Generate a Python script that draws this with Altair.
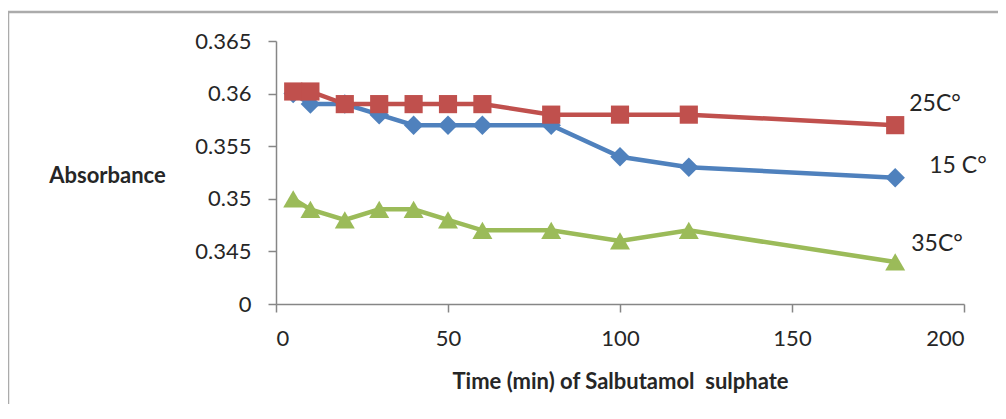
import altair as alt
import pandas as pd

times = [5, 10, 20, 30, 40, 50, 60, 80, 100, 120, 180]
abs_15 = [0.360, 0.359, 0.359, 0.358, 0.357, 0.357, 0.357, 0.357, 0.354, 0.353, 0.352]
abs_25 = [0.3602, 0.3602, 0.359, 0.359, 0.359, 0.359, 0.359, 0.358, 0.358, 0.358, 0.357]
abs_35 = [0.350, 0.349, 0.348, 0.349, 0.349, 0.348, 0.347, 0.347, 0.346, 0.347, 0.344]

series_names = ["15 C°", "25C°", "35C°"]
series_colors = ["#4F81BD", "#C0504D", "#9BBB59"]
series_shapes = ["diamond", "square", "triangle-up"]

y_ticks = [0.34, 0.345, 0.35, 0.355, 0.36, 0.365]
y_tick_labels = ["0", "0.345", "0.35", "0.355", "0.36", "0.365"]
x_ticks = [0, 50, 100, 150, 200]

rows = []
for name, vals in zip(series_names, [abs_15, abs_25, abs_35]):
    for t, v in zip(times, vals):
        rows.append({"time": t, "absorbance": v, "series": name})
df = pd.DataFrame(rows)

FONT = "Lato"
AXIS_COLOR = "#868686"
TEXT_COLOR = "#262626"

label_expr = " : ".join(
    [f"abs(datum.value - {v}) < 1e-6 ? '{l}'" for v, l in zip(y_ticks, y_tick_labels)]
) + " : ''"

x_enc = alt.X(
    "time:Q",
    scale=alt.Scale(domain=[0, 200], nice=False),
    axis=alt.Axis(
        values=x_ticks, title="Time (min) of Salbutamol\u00a0 sulphate", grid=False,
        domainColor=AXIS_COLOR, tickColor=AXIS_COLOR, tickSize=8, tickWidth=1.5,
        labelFont=FONT, labelFontSize=22, labelColor=TEXT_COLOR, labelPadding=16,
        titleFont=FONT, titleFontSize=22, titleFontWeight="bold", titleColor=TEXT_COLOR,
        titleY=77, titleBaseline="middle", domainWidth=1.5,
    ),
)
y_enc = alt.Y(
    "absorbance:Q",
    scale=alt.Scale(domain=[0.34, 0.365], nice=False, zero=False),
    axis=alt.Axis(
        values=y_ticks, labelExpr=label_expr, title="Absorbance", grid=False,
        domainColor=AXIS_COLOR, tickColor=AXIS_COLOR, tickSize=8, tickWidth=1.5,
        labelFont=FONT, labelFontSize=22, labelColor=TEXT_COLOR, labelPadding=17,
        titleFont=FONT, titleFontSize=22, titleFontWeight="bold", titleColor=TEXT_COLOR,
        titleAngle=0, titleX=-169, titleY=134, titleAlign="center", titleBaseline="middle",
        domainWidth=1.5,
    ),
)

layers = []
frame = alt.Chart(pd.DataFrame({"a": [0]})).mark_rect(
    fill=None, stroke="#ABABAB", strokeWidth=2.5
).encode(x=alt.value(-268), x2=alt.value(760), y=alt.value(-29), y2=alt.value(420))
layers.append(frame)

sizes = [380, 330, 400]
for name, color, shape, size in zip(series_names, series_colors, series_shapes, sizes):
    sub = df[df["series"] == name]
    base = alt.Chart(sub).encode(x=x_enc, y=y_enc)
    layers.append(base.mark_line(color=color, strokeWidth=4.5))
    layers.append(base.mark_point(shape=shape, filled=True, color=color, size=size, opacity=1))

label_offsets = {"15 C°": (34, -12), "25C°": (14, -21), "35C°": (16, -18)}
for name, vals in zip(series_names, [abs_15, abs_25, abs_35]):
    dx, dy = label_offsets[name]
    ldf = pd.DataFrame({"time": [times[-1]], "absorbance": [vals[-1]], "label": [name]})
    layers.append(
        alt.Chart(ldf).mark_text(
            align="left", baseline="middle", dx=dx, dy=dy, font=FONT, fontSize=23, color=TEXT_COLOR
        ).encode(x=x_enc, y=y_enc, text="label:N")
    )

chart = alt.layer(*layers).properties(
    width=688, height=263,
    autosize=alt.AutoSizeParams(type="none"),
    padding={"left": 268, "top": 33, "right": 34, "bottom": 100},
    background="white",
).configure_view(stroke=None)

chart.save("out.html", embed_options={"renderer": "svg", "actions": False})
